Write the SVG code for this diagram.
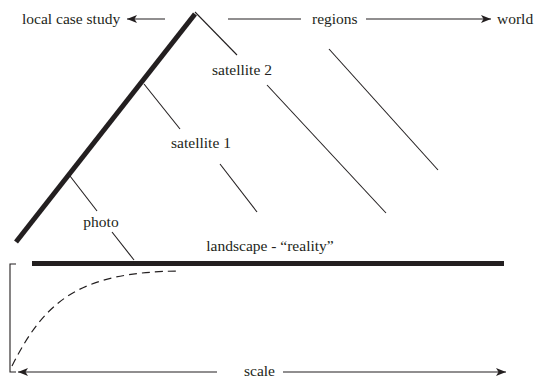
<svg xmlns="http://www.w3.org/2000/svg" width="534" height="377" viewBox="0 0 534 377">
<style>
.t{font-family:"Liberation Serif","Times New Roman",serif;font-size:15.5px;fill:#231f20}
.thin{stroke:#231f20;stroke-width:1.1;fill:none}
.thick{stroke:#231f20;stroke-width:5;fill:none}
.dash{stroke:#231f20;stroke-width:1.2;fill:none;stroke-dasharray:8,5}
</style>
<defs>
<marker id="ah" viewBox="0 0 10 8" refX="10" refY="4" markerWidth="10" markerHeight="8" markerUnits="userSpaceOnUse" orient="auto">
<path d="M0,0 L10,4 L0,8 L2.5,4 Z" fill="#231f20"/>
</marker>
</defs>
<rect width="534" height="377" fill="#fff"/>
<g id="connectors">
<line class="thin" x1="165" y1="19" x2="127" y2="19" marker-end="url(#ah)"/>
<line class="thin" x1="228" y1="19" x2="301" y2="19"/>
<line class="thin" x1="366" y1="19" x2="491" y2="19" marker-end="url(#ah)"/>
<line class="thin" x1="195" y1="12" x2="237" y2="55"/>
<line class="thin" x1="267" y1="85" x2="386" y2="213"/>
<line class="thin" x1="329" y1="49" x2="438" y2="170"/>
<line class="thin" x1="144" y1="84" x2="180" y2="129"/>
<line class="thin" x1="220" y1="164" x2="257" y2="212"/>
<line class="thin" x1="70" y1="176" x2="97" y2="211"/>
<line class="thin" x1="112" y1="232" x2="134" y2="260"/>
<path class="thin" d="M16,264 H10 V372 H16"/>
<line class="thin" x1="217" y1="372" x2="18" y2="372" marker-end="url(#ah)"/>
<line class="thin" x1="283" y1="372" x2="506" y2="372" marker-end="url(#ah)"/>
<path class="dash" d="M12,366 C45,300 80,272 180,271"/>
</g>
<g id="local-axis"><line class="thick" x1="16" y1="242" x2="195" y2="14"/></g>
<g id="landscape-line"><line class="thick" x1="32" y1="263.5" x2="504" y2="263.5"/></g>
<g id="local"><text class="t" x="22" y="24">local case study</text></g>
<g id="regions"><text class="t" x="312" y="24">regions</text></g>
<g id="world"><text class="t" x="497" y="24">world</text></g>
<g id="satellite2"><text class="t" x="242" y="75" text-anchor="middle">satellite 2</text></g>
<g id="satellite1"><text class="t" x="201" y="148" text-anchor="middle">satellite 1</text></g>
<g id="photo"><text class="t" x="101" y="227" text-anchor="middle">photo</text></g>
<g id="landscape"><text class="t" x="270" y="251" text-anchor="middle">landscape - “reality”</text></g>
<g id="scale"><text class="t" x="244" y="375.5">scale</text></g>
</svg>
